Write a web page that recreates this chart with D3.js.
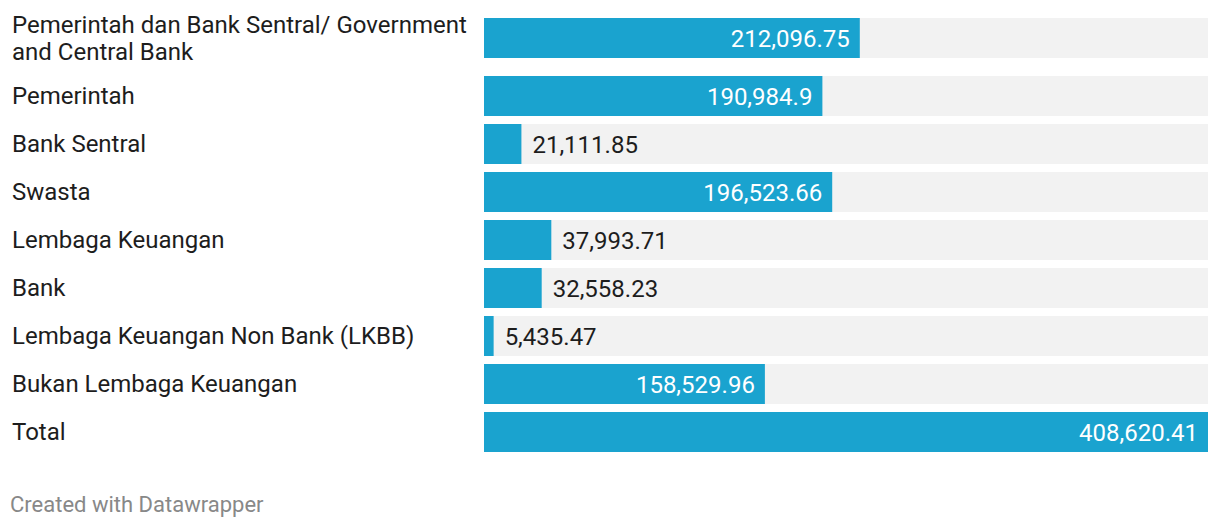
<!DOCTYPE html>
<html><head><meta charset="utf-8">
<script src="https://cdn.jsdelivr.net/npm/d3@7"></script>
<style>
body{margin:0;background:#fff;}
svg text{font-family:Roboto,"Noto Sans",sans-serif;}
</style></head>
<body><svg id="c" width="1220" height="528"></svg>
<script>
const categories = [
  ["Pemerintah dan Bank Sentral/ Government","and Central Bank"],
  ["Pemerintah"],
  ["Bank Sentral"],
  ["Swasta"],
  ["Lembaga Keuangan"],
  ["Bank"],
  ["Lembaga Keuangan Non Bank (LKBB)"],
  ["Bukan Lembaga Keuangan"],
  ["Total"]
];
const values = [212096.75, 190984.9, 21111.85, 196523.66, 37993.71, 32558.23, 5435.47, 158529.96, 408620.41];
const valueLabels = ["212,096.75","190,984.9","21,111.85","196,523.66","37,993.71","32,558.23","5,435.47","158,529.96","408,620.41"];

const svg = d3.select("#c");
const fs = 24, lineH = 27, barH = 40, gap = 8;
const x = d3.scaleLinear().domain([0, d3.max(values)]).range([484, 1208]);

// cumulative row layout
let yPos = 8;
const rows = categories.map((c, i) => {
  const blockH = Math.max(barH, c.length * lineH + 6);
  const r = {i, top: yPos, h: blockH, center: yPos + blockH / 2};
  yPos += blockH + gap;
  return r;
});
const y = d3.scaleOrdinal().domain(d3.range(values.length)).range(rows.map(r => r.center));

const g = svg.selectAll("g.row").data(values).join("g").attr("class", "row");

g.append("rect").attr("x", x(0)).attr("width", x.range()[1] - x(0))
  .attr("y", (d, i) => y(i) - barH / 2).attr("height", barH).attr("fill", "#f2f2f2");
g.append("rect").attr("x", x(0)).attr("width", d => x(d) - x(0))
  .attr("y", (d, i) => y(i) - barH / 2).attr("height", barH).attr("fill", "#1aa3cf");

g.append("text").attr("x", 12).attr("font-size", fs).attr("fill", "#1d1d1d")
  .each(function(d, i) {
    const lines = categories[i];
    const t = d3.select(this);
    const y0 = y(i) - (lines.length - 1) * lineH / 2 + 8.3;
    lines.forEach((l, k) => t.append("tspan").attr("x", 12).attr("y", y0 + k * lineH).text(l));
  });

g.append("text").attr("font-size", fs)
  .attr("y", (d, i) => y(i) + 8.5)
  .each(function(d, i) {
    const inside = x(d) - x(0) > 150;
    d3.select(this)
      .attr("x", inside ? x(d) - 10 : x(d) + 11)
      .attr("text-anchor", inside ? "end" : "start")
      .attr("fill", inside ? "#fff" : "#1d1d1d")
      .text(valueLabels[i]);
  });

svg.append("text").attr("x", 10).attr("y", 512).attr("font-size", 22).attr("fill", "#888")
  .text("Created with Datawrapper");
</script></body></html>
